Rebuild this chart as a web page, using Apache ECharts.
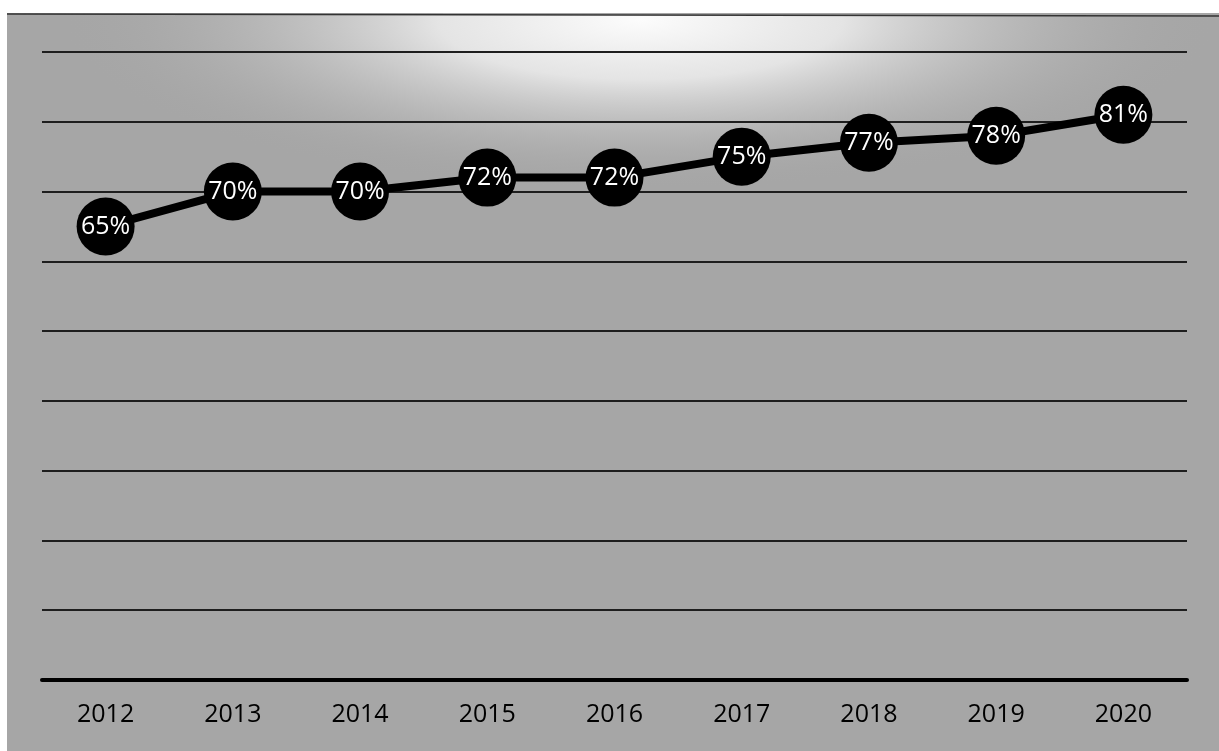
<!DOCTYPE html>
<html>
<head>
<meta charset="utf-8">
<script src="https://cdn.jsdelivr.net/npm/echarts@6/dist/echarts.min.js"></script>
<style>
html,body{margin:0;padding:0;background:#fff;}
#chart{width:1219px;height:751px;}
</style>
</head>
<body>
<div id="chart"></div>
<script>
const years = ['2012','2013','2014','2015','2016','2017','2018','2019','2020'];
const shares = [65, 70, 70, 72, 72, 75, 77, 78, 81];
const yMin = 0, yMax = 90, yStep = 10;

const chart = echarts.init(document.getElementById('chart'));
chart.setOption({
  backgroundColor: '#ffffff',
  animation: false,
  graphic: [
    {
      type: 'rect', z: -10, silent: true,
      shape: {x: 7, y: 13, width: 1212, height: 738},
      style: {fill: '#a6a6a6'}
    },
    {
      type: 'group', z: -9, silent: true,
      clipPath: {type: 'rect', shape: {x: 7, y: 15, width: 1212, height: 400}},
      children: [{
        type: 'circle', z: -9, silent: true,
        x: 640, y: 20, scaleX: 3.4, scaleY: 1,
        shape: {cx: 0, cy: 0, r: 170},
        style: {
          fill: {
            type: 'radial', x: 0.5, y: 0.5, r: 0.5,
            colorStops: [
              {offset: 0, color: 'rgba(252,252,252,1)'},
              {offset: 0.35, color: 'rgba(235,235,235,0.9)'},
              {offset: 1, color: 'rgba(166,166,166,0)'}
            ]
          }
        }
      }]
    },
    {
      type: 'line', z: -5, silent: true,
      shape: {x1: 7, y1: 14, x2: 1219, y2: 16},
      style: {stroke: '#333', lineWidth: 1.5}
    }
  ],
  grid: {left: 42, right: 32, top: 52, bottom: 71},
  xAxis: {
    type: 'category',
    data: years,
    boundaryGap: true,
    axisLine: {show: true, lineStyle: {color: '#000', width: 4}},
    axisTick: {show: false},
    axisLabel: {color: '#000', fontSize: 25, margin: 22, fontFamily: 'Open Sans'}
  },
  yAxis: {
    type: 'value',
    min: yMin, max: yMax, interval: yStep,
    axisLine: {show: false},
    axisTick: {show: false},
    axisLabel: {show: false},
    splitLine: {show: true, lineStyle: {color: '#1e1e1e', width: 1.8}}
  },
  series: [{
    type: 'line',
    data: shares,
    symbol: 'circle',
    symbolSize: 58,
    lineStyle: {color: '#000', width: 8},
    itemStyle: {color: '#000'},
    label: {
      show: true,
      position: 'inside',
      color: '#fff',
      fontSize: 25,
      fontFamily: 'Open Sans',
      formatter: p => p.value + '%'
    },
    z: 3
  }]
});
</script>
</body>
</html>
